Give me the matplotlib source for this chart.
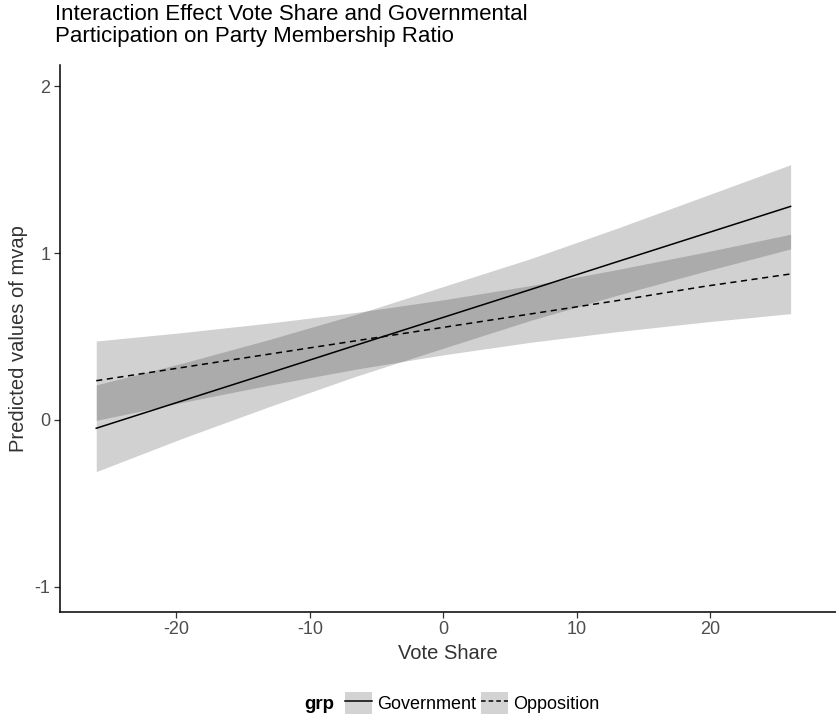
import numpy as np
import matplotlib.pyplot as plt
from matplotlib.patches import Patch
from matplotlib.lines import Line2D

plt.rcParams['font.family'] = ['Liberation Sans', 'DejaVu Sans']
plt.rcParams['axes.unicode_minus'] = False

# values
vote_share = [-26, -19.5, -13, -6.5, 0, 6.5, 13, 19.5, 26]

gov_fit = [-0.05, 0.116, 0.282, 0.449, 0.615, 0.781, 0.948, 1.114, 1.28]
gov_low = [-0.31, -0.109, 0.081, 0.263, 0.43, 0.596, 0.747, 0.889, 1.025]
gov_high = [0.21, 0.341, 0.483, 0.634, 0.80, 0.966, 1.149, 1.339, 1.53]

opp_fit = [0.235, 0.315, 0.395, 0.475, 0.555, 0.635, 0.715, 0.80, 0.875]
opp_low = [-0.003, 0.106, 0.209, 0.305, 0.39, 0.465, 0.529, 0.586, 0.637]
opp_high = [0.473, 0.524, 0.581, 0.645, 0.72, 0.805, 0.901, 1.004, 1.113]

groups = ['Government', 'Opposition']
x_ticks = [-20, -10, 0, 10, 20]
y_ticks = [-1, 0, 1, 2]

fig = plt.figure(figsize=(8.36, 7.18), dpi=100)
ax = fig.add_axes([0.072, 0.148, 0.928, 0.762])

ax.fill_between(vote_share, gov_low, gov_high, color='black', alpha=0.18, linewidth=0)
ax.fill_between(vote_share, opp_low, opp_high, color='black', alpha=0.18, linewidth=0)
ax.plot(vote_share, gov_fit, color='black', lw=1.1, linestyle='-')
ax.plot(vote_share, opp_fit, color='black', lw=1.1, linestyle=(0, (4, 3)))

ax.set_xlim(-28.7, 29.4)
ax.set_ylim(-1.15, 2.13)
ax.set_xticks(x_ticks)
ax.set_yticks(y_ticks)
ax.tick_params(direction='out', length=4, width=0.9, labelsize=13, labelcolor='#4d4d4d', color='#333333', pad=3)
for s in ['top', 'right']:
    ax.spines[s].set_visible(False)
for s in ['left', 'bottom']:
    ax.spines[s].set_linewidth(1.1)

ax.set_xlabel('Vote Share', fontsize=14.5, color='#333333', labelpad=4)
ax.set_ylabel('Predicted values of mvap', fontsize=14.5, color='#333333', labelpad=5)

fig.text(0.066, 0.994, 'Interaction Effect Vote Share and Governmental\nParticipation on Party Membership Ratio',
         fontsize=16, va='top', ha='left', linespacing=1.05)

handles = [
    (Patch(facecolor='#d3d3d3', edgecolor='none'), Line2D([], [], color='black', lw=1.1)),
    (Patch(facecolor='#d3d3d3', edgecolor='none'), Line2D([], [], color='black', lw=1.1, linestyle=(0, (3, 2)))),
]
leg = fig.legend(handles, groups, loc='center', bbox_to_anchor=(0.565, 0.021), ncol=2, frameon=False,
                 fontsize=13, handlelength=1.45, handleheight=1.45, handletextpad=0.3, columnspacing=0.3,
                 borderpad=0)
fig.text(0.364, 0.019, 'grp', fontsize=13.5, fontweight='bold', va='center', ha='left')

fig.savefig('out.png', dpi=100)
